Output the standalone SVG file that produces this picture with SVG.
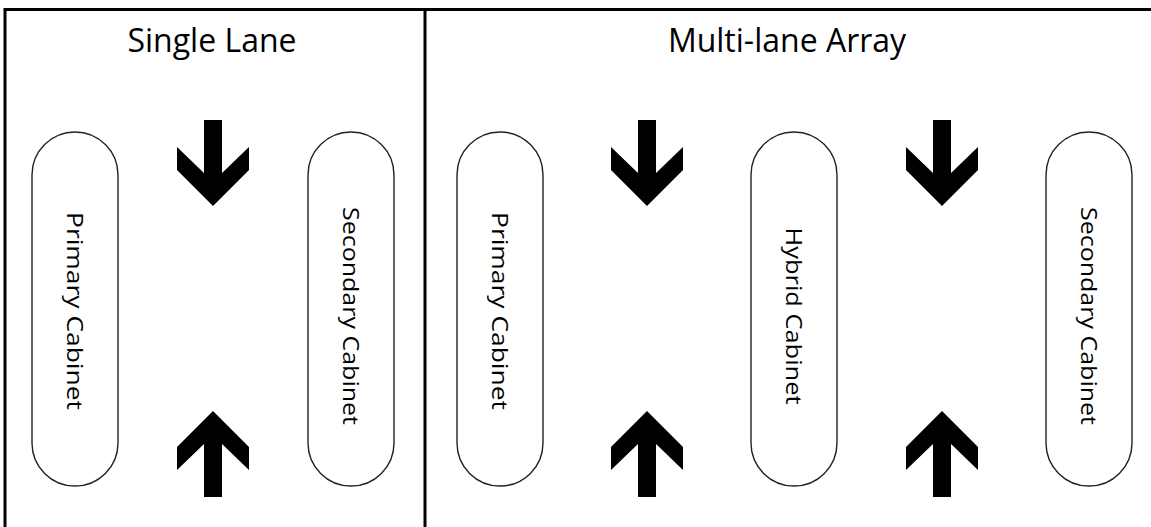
<svg xmlns="http://www.w3.org/2000/svg" xmlns:xlink="http://www.w3.org/1999/xlink" width="1151" height="527" viewBox="0 0 1151 527">
<style>
.frame{stroke:#000;stroke-width:3;fill:none}
.cab{fill:#fff;stroke:#222;stroke-width:1.4}
.title{font-family:"Open Sans","Noto Sans",sans-serif;font-size:32px;fill:#000;text-anchor:middle}
.lbl{font-family:"Open Sans","Noto Sans",sans-serif;font-size:22px;fill:#000;text-anchor:middle}
.arrow{fill:#000}
</style>
<defs>
<path id="down" class="arrow" d="M-9,120 L9,120 L9,173 L36,147 L36,170 L0,206 L-36,170 L-36,147 L-9,173 Z"/>
<path id="up" class="arrow" d="M-9,497 L9,497 L9,444 L36,470 L36,447 L0,411 L-36,447 L-36,470 L-9,444 Z"/>
</defs>
<rect width="1151" height="527" fill="#fff"/>
<g id="frame">
<path class="frame" d="M5,527 L5,9.5 L1151,9.5"/>
<path class="frame" d="M425,9.5 L425,527"/>
</g>
<g id="title-single"><text class="title" x="212" y="52">Single Lane</text></g>
<g id="title-multi"><text class="title" x="787" y="52">Multi-lane Array</text></g>
<g id="single-primary">
<rect class="cab" x="32" y="132" width="86" height="354" rx="43"/>
<text class="lbl" transform="translate(75,311) rotate(90)" y="8" textLength="198" lengthAdjust="spacingAndGlyphs">Primary Cabinet</text>
</g>
<g id="single-secondary">
<rect class="cab" x="308" y="132" width="86" height="354" rx="43"/>
<text class="lbl" transform="translate(351,316) rotate(90)" y="8" textLength="218" lengthAdjust="spacingAndGlyphs">Secondary Cabinet</text>
</g>
<g id="multi-primary">
<rect class="cab" x="457" y="132" width="86" height="354" rx="43"/>
<text class="lbl" transform="translate(500,311) rotate(90)" y="8" textLength="198" lengthAdjust="spacingAndGlyphs">Primary Cabinet</text>
</g>
<g id="multi-hybrid">
<rect class="cab" x="751" y="132" width="86" height="354" rx="43"/>
<text class="lbl" transform="translate(794,316) rotate(90)" y="8" textLength="177" lengthAdjust="spacingAndGlyphs">Hybrid Cabinet</text>
</g>
<g id="multi-secondary">
<rect class="cab" x="1046" y="132" width="86" height="354" rx="43"/>
<text class="lbl" transform="translate(1089,316) rotate(90)" y="8" textLength="218" lengthAdjust="spacingAndGlyphs">Secondary Cabinet</text>
</g>
<g id="connectors">
<use xlink:href="#down" transform="translate(213,0)"/>
<use xlink:href="#up" transform="translate(213,0)"/>
<use xlink:href="#down" transform="translate(647,0)"/>
<use xlink:href="#up" transform="translate(647,0)"/>
<use xlink:href="#down" transform="translate(942,0)"/>
<use xlink:href="#up" transform="translate(942,0)"/>
</g>
</svg>
